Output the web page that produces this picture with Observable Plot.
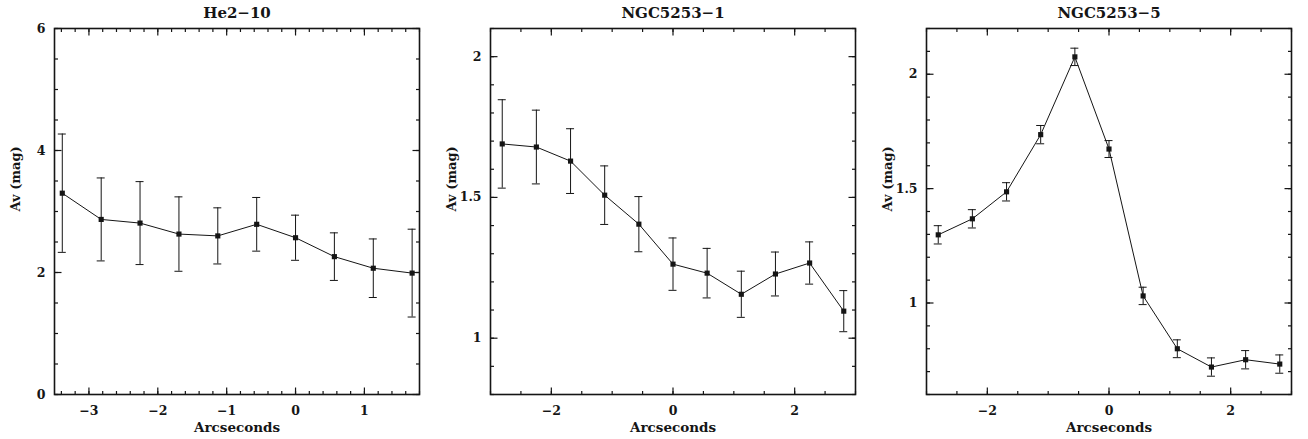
<!DOCTYPE html>
<html>
<head>
<meta charset="utf-8">
<script src="https://cdn.jsdelivr.net/npm/d3@7"></script>
<script src="https://cdn.jsdelivr.net/npm/@observablehq/plot@0.6"></script>
<style>
  html, body { margin: 0; padding: 0; background: white; }
  #row { display: flex; flex-direction: row; width: 1308px; height: 439px; }
  #row svg text { font-weight: bold; }
</style>
</head>
<body>
<div id="row"></div>
<script>
// ---- Data ----
const titles = ["He2−10", "NGC5253−1", "NGC5253−5"];

// He2-10
const he_x   = [-3.387, -2.822, -2.258, -1.693, -1.129, -0.564, 0, 0.564, 1.129, 1.693];
const he_av  = [3.30, 2.87, 2.81, 2.63, 2.60, 2.79, 2.57, 2.26, 2.07, 1.99];
const he_err = [0.97, 0.68, 0.68, 0.61, 0.46, 0.44, 0.37, 0.39, 0.48, 0.72];

// NGC5253-1
const n1_x   = [-2.807, -2.246, -1.684, -1.123, -0.561, 0, 0.561, 1.123, 1.684, 2.246, 2.807];
const n1_av  = [1.690, 1.679, 1.629, 1.508, 1.405, 1.263, 1.231, 1.156, 1.228, 1.267, 1.096];
const n1_err = [0.157, 0.131, 0.115, 0.104, 0.098, 0.093, 0.088, 0.082, 0.078, 0.075, 0.073];

// NGC5253-5
const n5_x   = [-2.807, -2.246, -1.684, -1.123, -0.561, 0, 0.561, 1.123, 1.684, 2.246, 2.807];
const n5_av  = [1.298, 1.368, 1.486, 1.736, 2.076, 1.673, 1.031, 0.800, 0.720, 0.752, 0.733];
const n5_err = [0.040, 0.040, 0.040, 0.040, 0.038, 0.037, 0.038, 0.039, 0.040, 0.040, 0.040];

// Axis settings
const xDomains = [[-3.5, 1.8], [-3, 3], [-3, 3]];
const yDomains = [[0, 6], [0.8, 2.1], [0.6, 2.2]];
const xMajorTicks = [[-3, -2, -1, 0, 1], [-2, 0, 2], [-2, 0, 2]];
const xMinorStep = [0.2, 0.5, 0.5];
const yMajorTicks = [[0, 2, 4, 6], [1, 1.5, 2], [1, 1.5, 2]];
const yMinorStep = [0.5, 0.1, 0.1];

const xLabel = "Arcseconds";
const yLabel = "Av (mag)";

function rangeTicks(domain, step) {
  const out = [];
  const start = Math.ceil(domain[0] / step - 1e-9);
  const end = Math.floor(domain[1] / step + 1e-9);
  for (let k = start; k <= end; k++) out.push(+(k * step).toFixed(6));
  return out;
}

const fmt = d => String(d).replace("-", "−");

// custom stroke-only symbols used as inward tick stubs
const stub = (dx, dy) => ({draw(c) { c.moveTo(0, 0); c.lineTo(dx, dy); }});

const W = 436, H = 439, ML = 54, MR = 17, MT = 28, MB = 45;

function panel(i, xs, avs, errs) {
  const data = xs.map((x, j) => ({x, av: avs[j], lo: avs[j] - errs[j], hi: avs[j] + errs[j]}));
  const xMinorT = rangeTicks(xDomains[i], xMinorStep[i]).map(v => ({v}));
  const yMinorT = rangeTicks(yDomains[i], yMinorStep[i]).map(v => ({v}));
  const xMajorT = xMajorTicks[i].map(v => ({v}));
  const yMajorT = yMajorTicks[i].map(v => ({v}));
  const ink = "#151515";
  const tOpt = {fill: "none", stroke: ink, strokeWidth: 1.2, r: 1};
  const xt = (ticks, len) => [
    Plot.dot(ticks, {x: "v", frameAnchor: "bottom", symbol: stub(0, -len), ...tOpt}),
    Plot.dot(ticks, {x: "v", frameAnchor: "top", symbol: stub(0, len), ...tOpt})
  ];
  const yt = (ticks, len) => [
    Plot.dot(ticks, {y: "v", frameAnchor: "left", symbol: stub(len, 0), ...tOpt}),
    Plot.dot(ticks, {y: "v", frameAnchor: "right", symbol: stub(-len, 0), ...tOpt})
  ];
  const marks = [
    Plot.frame({stroke: ink, strokeWidth: 1.6}),
    // tick labels
    Plot.axisX(xMajorTicks[i], {anchor: "bottom", tickSize: 0, tickPadding: 12, tickFormat: fmt, fontSize: 12.5}),
    Plot.axisY(yMajorTicks[i], {anchor: "left", tickSize: 0, tickPadding: 9, tickFormat: fmt, fontSize: 12.5}),
    // inward ticks on all four sides
    ...xt(xMinorT, 3.5),
    ...xt(xMajorT, 7),
    ...yt(yMinorT, 3.5),
    ...yt(yMajorT, 7),
    // error bars
    Plot.ruleX(data, {x: "x", y1: "lo", y2: "hi", stroke: ink, strokeWidth: 1}),
    Plot.ruleY(data, {x1: "x", x2: "x", y: "hi", insetLeft: -4, insetRight: -4, stroke: ink, strokeWidth: 1}),
    Plot.ruleY(data, {x1: "x", x2: "x", y: "lo", insetLeft: -4, insetRight: -4, stroke: ink, strokeWidth: 1}),
    // line + markers
    Plot.line(data, {x: "x", y: "av", stroke: ink, strokeWidth: 1}),
    Plot.dot(data, {x: "x", y: "av", symbol: "square", r: 2.9, fill: ink, stroke: "none"}),
    // titles and labels
    Plot.text([titles[i]], {text: d => d, frameAnchor: "top", lineAnchor: "middle", dy: -15, fontSize: 15, fontWeight: "bold", fill: ink}),
    Plot.text([xLabel], {text: d => d, frameAnchor: "bottom", lineAnchor: "middle", dy: 33, fontSize: 13.5, fontWeight: "bold", fill: ink}),
    Plot.text([yLabel], {text: d => d, frameAnchor: "left", lineAnchor: "middle", dx: -39, rotate: -90, fontSize: 13, fontWeight: "bold", fill: ink})
  ];
  return Plot.plot({
    width: W,
    height: H,
    marginLeft: ML,
    marginRight: MR,
    marginTop: MT,
    marginBottom: MB,
    x: {domain: xDomains[i], label: null},
    y: {domain: yDomains[i], label: null},
    style: {fontFamily: "DejaVu Serif", fontWeight: "bold", fontSize: "12.5px", color: ink, background: "white"},
    marks
  });
}

const row = document.getElementById("row");
row.appendChild(panel(0, he_x, he_av, he_err));
row.appendChild(panel(1, n1_x, n1_av, n1_err));
row.appendChild(panel(2, n5_x, n5_av, n5_err));
</script>
</body>
</html>
